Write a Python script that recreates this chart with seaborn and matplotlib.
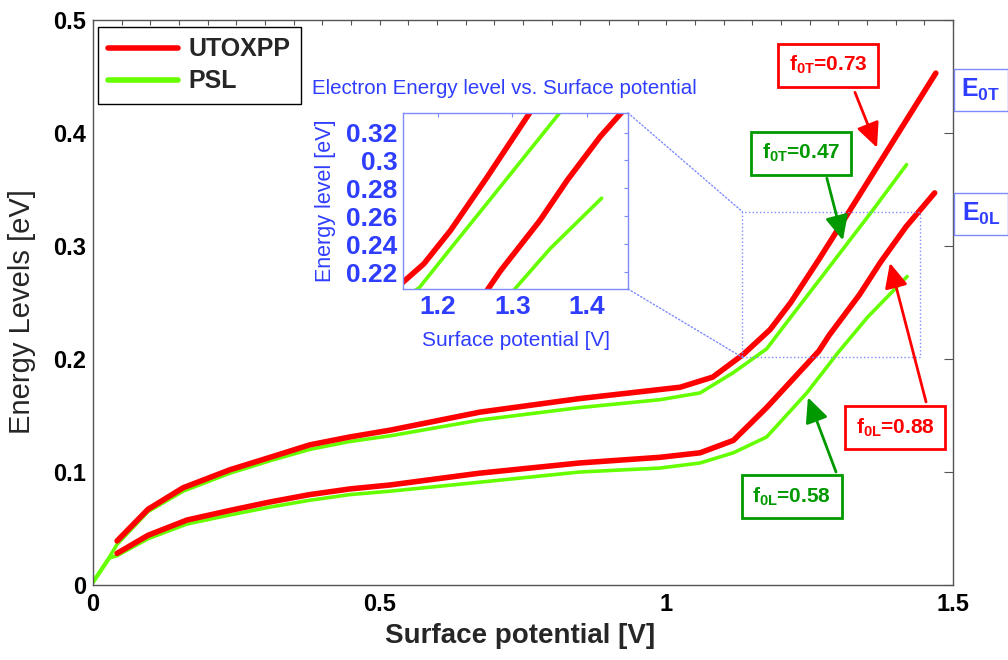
import matplotlib
matplotlib.use("Agg")
import matplotlib.pyplot as plt
import seaborn as sns
import pandas as pd
from matplotlib.lines import Line2D
from matplotlib.patches import Rectangle, ConnectionPatch
from matplotlib.ticker import MultipleLocator, FixedLocator, FixedFormatter

# ---- electron energy levels [eV] vs. surface potential [V] ----
# UTOXPP model, E0T level
utox_t_x = [0.042, 0.096, 0.157, 0.239, 0.309, 0.378, 0.448, 0.518, 0.675, 0.849,
            0.989, 1.024, 1.081, 1.134, 1.181, 1.217, 1.266, 1.322, 1.470]
utox_t_y = [0.039, 0.067, 0.086, 0.102, 0.113, 0.124, 0.131, 0.137, 0.153, 0.165,
            0.173, 0.175, 0.184, 0.204, 0.226, 0.250, 0.288, 0.333, 0.453]
# UTOXPP model, E0L level
utox_l_x = [0.042, 0.096, 0.164, 0.239, 0.309, 0.378, 0.448, 0.518, 0.675, 0.849,
            0.989, 1.059, 1.117, 1.175, 1.266, 1.284, 1.337, 1.374, 1.418, 1.468]
utox_l_y = [0.028, 0.044, 0.0575, 0.066, 0.0735, 0.080, 0.085, 0.0885, 0.099, 0.108,
            0.113, 0.117, 0.128, 0.157, 0.207, 0.221, 0.257, 0.286, 0.317, 0.347]
# PSL model, E0T level
psl_t_x = [0.000, 0.029, 0.042, 0.096, 0.157, 0.239, 0.309, 0.378, 0.448, 0.518,
           0.675, 0.849, 0.989, 1.059, 1.117, 1.175, 1.217, 1.270, 1.362, 1.419]
psl_t_y = [0.003, 0.025, 0.036, 0.065, 0.083, 0.099, 0.110, 0.120, 0.127, 0.132,
           0.146, 0.157, 0.164, 0.170, 0.188, 0.209, 0.237, 0.272, 0.333, 0.372]
# PSL model, E0L level
psl_l_x = [0.000, 0.029, 0.042, 0.096, 0.164, 0.239, 0.309, 0.378, 0.448, 0.518,
           0.675, 0.849, 0.989, 1.059, 1.117, 1.175, 1.245, 1.300, 1.351, 1.420]
psl_l_y = [0.002, 0.024, 0.026, 0.041, 0.054, 0.062, 0.069, 0.075, 0.080, 0.083,
           0.091, 0.100, 0.1035, 0.108, 0.117, 0.131, 0.170, 0.206, 0.237, 0.273]

models = ["UTOXPP", "PSL"]
x_ticks = [0, 0.5, 1, 1.5]
x_tick_labels = ["0", "0.5", "1", "1.5"]
y_ticks = [0, 0.1, 0.2, 0.3, 0.4, 0.5]
y_tick_labels = ["0", "0.1", "0.2", "0.3", "0.4", "0.5"]
inset_x_ticks = [1.2, 1.3, 1.4]
inset_x_labels = ["1.2", "1.3", "1.4"]
inset_y_ticks = [0.22, 0.24, 0.26, 0.28, 0.30, 0.32]
inset_y_labels = ["0.22", "0.24", "0.26", "0.28", "0.3", "0.32"]

# occupation factors shown in the call-outs
f_labels = [
    (r"$\mathbf{f_{0T}}$=0.73", "UTOXPP"),
    (r"$\mathbf{f_{0T}}$=0.47", "PSL"),
    (r"$\mathbf{f_{0L}}$=0.88", "UTOXPP"),
    (r"$\mathbf{f_{0L}}$=0.58", "PSL"),
]

# ---- styling ----
sns.set_style("white")
plt.rcParams["font.family"] = ["Liberation Sans", "DejaVu Sans"]
plt.rcParams.update({
    "mathtext.fontset": "custom",
    "mathtext.rm": "Liberation Sans",
    "mathtext.bf": "Liberation Sans:bold",
    "mathtext.it": "Liberation Sans:italic",
    "mathtext.sf": "Liberation Sans",
})

RED = "#ff0000"
GREEN = "#66ff00"
DKGREEN = "#009900"
BLUE = "#2f3dff"
LBLUE = "#7d8bff"
SPINE = "#555555"

line_style = {"UTOXPP": (RED, 4.0), "PSL": (GREEN, 2.6)}
box_color = {"UTOXPP": RED, "PSL": DKGREEN}

frames = []
for cid, (model, xs, ys) in enumerate([("PSL", psl_t_x, psl_t_y),
                                       ("PSL", psl_l_x, psl_l_y),
                                       ("UTOXPP", utox_t_x, utox_t_y),
                                       ("UTOXPP", utox_l_x, utox_l_y)]):
    frames.append(pd.DataFrame({"V": xs, "E": ys, "model": model, "curve": cid}))
df = pd.concat(frames, ignore_index=True)


def draw_curves(axis):
    for _, sub in df.groupby("curve", sort=True):
        color, lw = line_style[sub["model"].iloc[0]]
        sns.lineplot(data=sub, x="V", y="E", ax=axis, color=color, linewidth=lw,
                     sort=False, estimator=None, legend=False)


fig = plt.figure(figsize=(10.08, 6.6), dpi=100)
ax = fig.add_axes([93 / 1008, 75 / 660, 860 / 1008, 565 / 660])
draw_curves(ax)

ax.set_xlim(0, 1.5)
ax.set_ylim(0, 0.5)
ax.xaxis.set_major_locator(FixedLocator(x_ticks))
ax.xaxis.set_major_formatter(FixedFormatter(x_tick_labels))
ax.xaxis.set_minor_locator(MultipleLocator(0.05))
ax.yaxis.set_major_locator(FixedLocator(y_ticks))
ax.yaxis.set_major_formatter(FixedFormatter(y_tick_labels))
ax.tick_params(which="both", direction="in", top=True, right=True,
               color=SPINE, labelsize=17, labelcolor="black")
ax.tick_params(axis="x", which="both", length=3.3, width=0.8, pad=6)
ax.tick_params(axis="y", which="both", length=6.5, width=0.8, pad=5)
for lab in ax.get_xticklabels() + ax.get_yticklabels():
    lab.set_fontweight("bold")
for sp in ax.spines.values():
    sp.set_color(SPINE)
    sp.set_linewidth(1.0)
ax.set_xlabel("Surface potential [V]", fontsize=20, fontweight="bold")
ax.set_ylabel("Energy Levels [eV]", fontsize=21)
ax.xaxis.set_label_coords(0.497, -0.068)
ax.yaxis.set_label_coords(-0.066, 0.484)

handles = [Line2D([], [], color=line_style[m][0], lw=4) for m in models]
leg = ax.legend(handles, models, loc="upper left", bbox_to_anchor=(0.0058, 0.988),
                borderaxespad=0, prop={"weight": "bold", "size": 18}, frameon=True,
                fancybox=False, edgecolor="black", framealpha=1, handlelength=2.8,
                handletextpad=0.4, labelspacing=0.32, borderpad=0.42)
leg.get_frame().set_linewidth(1.0)

# call-out boxes with arrows: (box centre, arrow start, arrow tip)
callout_geom = [
    ((1.282, 0.460), (1.329, 0.436), (1.3675, 0.387)),
    ((1.235, 0.382), (1.280, 0.360), (1.308, 0.305)),
    ((1.399, 0.139), (1.453, 0.162), (1.390, 0.285)),
    ((1.219, 0.078), (1.296, 0.100), (1.247, 0.166)),
]
for (text, model), (centre, start, tip) in zip(f_labels, callout_geom):
    col = box_color[model]
    ax.annotate("", xy=tip, xytext=start,
                arrowprops=dict(arrowstyle="-|>,head_length=0.75,head_width=0.35",
                                color=col, lw=2, mutation_scale=20,
                                shrinkA=0, shrinkB=0), zorder=6)
    ax.text(centre[0], centre[1], text, color=col, fontsize=15, fontweight="bold",
            ha="center", va="center", zorder=7,
            bbox=dict(boxstyle="square,pad=0.5", fc="white", ec=col, lw=2))

# level names outside the right edge
for yfig, name in [(1 - 90 / 660, r"$\mathbf{E_{0T}}$"), (1 - 214 / 660, r"$\mathbf{E_{0L}}$")]:
    fig.text(981 / 1008, yfig, name, color=BLUE, fontsize=18, ha="center", va="center",
             bbox=dict(boxstyle="square,pad=0.3", fc="white", ec=LBLUE, lw=1))

# zoom region marker
zx0, zx1, zy0, zy1 = 1.1326, 1.442, 0.2015, 0.3304
ax.add_patch(Rectangle((zx0, zy0), zx1 - zx0, zy1 - zy0, fill=False, ec=LBLUE,
                       ls=":", lw=1, zorder=5))

# ---- inset ----
axins = fig.add_axes([403 / 1008, (660 - 289) / 660, 225 / 1008, 176 / 660])
draw_curves(axins)
axins.set_xlim(1.153, 1.4555)
axins.set_ylim(0.208, 0.334)
axins.xaxis.set_major_locator(FixedLocator(inset_x_ticks))
axins.xaxis.set_major_formatter(FixedFormatter(inset_x_labels))
axins.yaxis.set_major_locator(FixedLocator(inset_y_ticks))
axins.yaxis.set_major_formatter(FixedFormatter(inset_y_labels))
axins.tick_params(direction="in", top=True, right=True, color=LBLUE, length=3,
                  labelsize=19, labelcolor=BLUE, pad=4)
for lab in axins.get_xticklabels() + axins.get_yticklabels():
    lab.set_fontweight("bold")
for sp in axins.spines.values():
    sp.set_color(LBLUE)
    sp.set_linewidth(1.0)
axins.set_xlabel("Surface potential [V]", fontsize=15, color=BLUE, labelpad=9)
axins.set_ylabel("Energy level [eV]", fontsize=15.5, color=BLUE, labelpad=7)
axins.text(0.451, 1.142, "Electron Energy level vs. Surface potential", transform=axins.transAxes,
           fontsize=14.8, color=BLUE, ha="center", va="center")

for ya, yb in [(1, zy1), (0, zy0)]:
    con = ConnectionPatch(xyA=(1, ya), coordsA=axins.transAxes, xyB=(zx0, yb),
                          coordsB=ax.transData, color=LBLUE, ls=":", lw=1)
    fig.add_artist(con)

fig.savefig("out.png", dpi=100)
